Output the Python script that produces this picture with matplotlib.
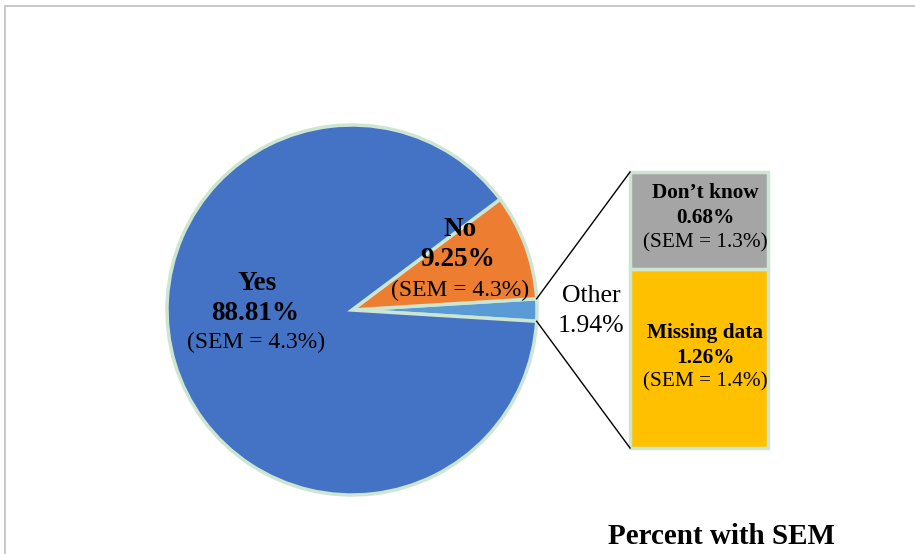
import numpy as np
import matplotlib
matplotlib.use('Agg')
import matplotlib.pyplot as plt
from matplotlib.patches import Rectangle

plt.rcParams['font.family'] = ['Liberation Serif', 'DejaVu Serif']

# main pie
pie_labels = ['Other', 'No', 'Yes']
pie_values = [1.94, 9.25, 88.81]
pie_sem = [None, 4.3, 4.3]
pie_colors = ['#5B9BD5', '#ED7D31', '#4472C4']

# breakdown of "Other"
sub_labels = ['Missing data', 'Don\u2019t know']
sub_values = [1.26, 0.68]
sub_sem = [1.4, 1.3]
sub_colors = ['#FFC000', '#A5A5A5']

edge = '#CDE6D2'
W, H = 915, 554

fig = plt.figure(figsize=(W / 100, H / 100), dpi=100)
ax = fig.add_axes([0, 0, 1, 1])

cx, cy, r = 352, H - 310, 185
start = -pie_values[0] / 100 * 360 / 2
ax.pie(pie_values, colors=pie_colors, startangle=start, counterclock=True,
       center=(cx, cy), radius=r, frame=True,
       wedgeprops=dict(edgecolor=edge, linewidth=2.5))

# stacked bar for the "Other" slice
bx, bw = 699, 138
b0, bh = H - 448, 276
heights = np.array(sub_values) / sum(sub_values) * bh
bottoms = b0 + np.concatenate([[0], np.cumsum(heights)[:-1]])
ax.bar([bx] * len(sub_values), heights, width=bw, bottom=bottoms,
       color=sub_colors, edgecolor=edge, linewidth=2.5)

# connector lines
half = np.deg2rad(pie_values[0] / 100 * 360 / 2)
px = cx + r * np.cos(half)
ax.plot([px, bx - bw / 2], [cy + r * np.sin(half), b0 + bh], color='black', lw=1)
ax.plot([px, bx - bw / 2], [cy - r * np.sin(half), b0], color='black', lw=1)

big, sem_fs, small = 19.5, 17, 15.3

# pie labels
ax.text(257, H - 284, 'Yes', ha='center', va='center', fontsize=big, fontweight='bold')
ax.text(255, H - 313, f'{pie_values[2]:.2f}%', ha='center', va='center', fontsize=big, fontweight='bold')
ax.text(256, H - 342, f'(SEM = {pie_sem[2]}%)', ha='center', va='center', fontsize=sem_fs)

ax.text(460, H - 230, 'No', ha='center', va='center', fontsize=big, fontweight='bold')
ax.text(458, H - 260, f'{pie_values[1]:.2f}%', ha='center', va='center', fontsize=big, fontweight='bold')
ax.text(460, H - 290, f'(SEM = {pie_sem[1]}%)', ha='center', va='center', fontsize=sem_fs)

ax.text(591, H - 296, 'Other', ha='center', va='center', fontsize=18.5)
ax.text(591, H - 326, f'{pie_values[0]:.2f}%', ha='center', va='center', fontsize=18.5)

# bar labels
tx = 705
ax.text(tx, H - 193, sub_labels[1], ha='center', va='center', fontsize=small, fontweight='bold')
ax.text(tx, H - 218, f'{sub_values[1]:.2f}%', ha='center', va='center', fontsize=small, fontweight='bold')
ax.text(tx, H - 243, f'(SEM = {sub_sem[1]}%)', ha='center', va='center', fontsize=small)

ax.text(tx, H - 333, sub_labels[0], ha='center', va='center', fontsize=small, fontweight='bold')
ax.text(tx, H - 358, f'{sub_values[0]:.2f}%', ha='center', va='center', fontsize=small, fontweight='bold')
ax.text(tx, H - 382, f'(SEM = {sub_sem[0]}%)', ha='center', va='center', fontsize=small)

ax.text(722, H - 537, 'Percent with SEM', ha='center', va='center', fontsize=21, fontweight='bold')

ax.set_xlim(0, W)
ax.set_ylim(0, H)
ax.set_aspect('equal')
ax.axis('off')

# chart area border (only top and left edges fall inside the image)
fig.patches.append(Rectangle((5 / W, -0.2), 1.2, 1.2 - 6 / H, transform=fig.transFigure,
                             fill=False, edgecolor='#BFBFBF', linewidth=1.2))

fig.savefig('out.png', dpi=100)
